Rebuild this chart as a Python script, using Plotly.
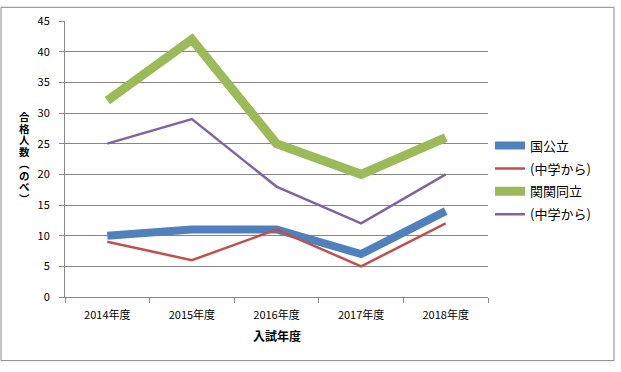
import plotly.graph_objects as go

categories = ["2014年度", "2015年度", "2016年度", "2017年度", "2018年度"]
kokkouritsu = [10, 11, 11, 7, 14]
kokkouritsu_chu = [9, 6, 11, 5, 12]
kankandouritsu = [32, 42, 25, 20, 26]
kankandouritsu_chu = [25, 29, 18, 12, 20]
yticks = [0, 5, 10, 15, 20, 25, 30, 35, 40, 45]
y_title_chars = list("合格人数︵のべ︶")

FONT = "Noto Sans CJK JP, Liberation Sans, sans-serif"
TITLE_FONT = "Liberation Sans, Noto Sans CJK JP, sans-serif"

fig = go.Figure()
series = [
    ("国公立", kokkouritsu, "#4F81BD", 8),
    ("(中学から)", kokkouritsu_chu, "#C0504D", 2.5),
    ("関関同立", kankandouritsu, "#9BBB59", 9),
    ("(中学から)", kankandouritsu_chu, "#8064A2", 2.5),
]
for i, (name, vals, color, w) in enumerate(series):
    fig.add_trace(go.Scatter(
        x=categories, y=vals, name=name, mode="lines",
        legendgroup="g%d" % i,
        line=dict(color=color, width=w),
    ))

L, R, T, B = 65, 488, 15, 297
W, H = 621, 372
def px(xp):
    return (xp - L) / (R - L)
def py(yp):
    return (B - yp) / (B - T)

annotations = [
    dict(text="<b>入試年度</b>", xref="paper", yref="paper",
         x=px(277), y=py(336), xanchor="center", yanchor="middle",
         showarrow=False, font=dict(size=12, family=FONT)),
]
for i, ch in enumerate(y_title_chars):
    annotations.append(dict(
        text="<b>" + ch + "</b>", xref="paper", yref="paper",
        x=px(24.5), y=py(113 + 12 * i), xanchor="center", yanchor="middle",
        showarrow=False, font=dict(size=10.5, family=TITLE_FONT),
    ))

fig.update_layout(
    width=W, height=H,
    margin=dict(l=L, r=W - R, t=T, b=H - B),
    paper_bgcolor="white", plot_bgcolor="white",
    font=dict(family=FONT, size=11, color="#000000"),
    showlegend=True,
    legend=dict(
        x=px(490), y=py(127), xanchor="left", yanchor="top",
        font=dict(size=13, family=FONT),
        itemwidth=30, tracegroupgap=3,
        bgcolor="rgba(0,0,0,0)",
    ),
    xaxis=dict(
        type="category", range=[-0.5, 4.5],
        showgrid=False, showline=True, linecolor="#868686", linewidth=1,
        ticks="outside", tickson="boundaries", ticklen=5, tickcolor="#868686",
        tickfont=dict(size=11), ticklabelstandoff=8, zeroline=False,
    ),
    yaxis=dict(
        range=[0, 45], tickvals=yticks,
        showgrid=True, gridcolor="#868686", gridwidth=1,
        showline=True, linecolor="#868686", linewidth=1,
        ticks="outside", ticklen=5, tickcolor="#868686",
        tickfont=dict(size=11), ticklabelstandoff=7, zeroline=False,
    ),
    shapes=[dict(
        type="rect", xref="paper", yref="paper",
        x0=px(1), x1=px(614), y0=py(362), y1=py(1),
        line=dict(color="#888888", width=1), fillcolor="rgba(0,0,0,0)",
    )],
    annotations=annotations,
)

fig.write_html("out.html", config={"displayModeBar": False},
               post_script="document.body.style.margin='0';")
